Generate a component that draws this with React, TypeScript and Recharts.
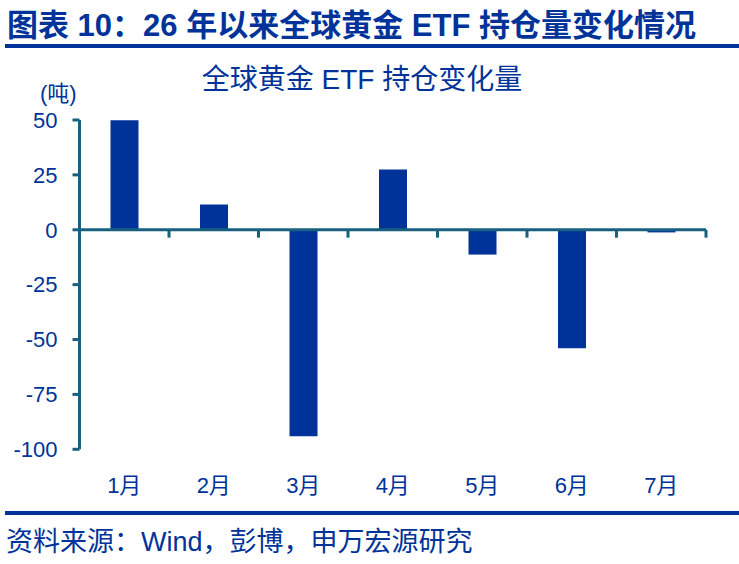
import React from "react";
import { BarChart, Bar, XAxis, YAxis, ReferenceLine } from "recharts";

const categories = ["1月", "2月", "3月", "4月", "5月", "6月", "7月"];
const etfChange = [49.9, 11.5, -94.0, 27.5, -11.3, -54.0, -1.2];
const yTicks = [-100, -75, -50, -25, 0, 25, 50];

const data = categories.map((c, i) => ({ month: c, value: etfChange[i] }));

const BLUE = "#003399";
const AXIS = "#17607f";
const LATIN = "'Liberation Sans', Arial, 'Noto Sans CJK SC', sans-serif";

export default function App() {
  return (
    <div
      style={{
        position: "absolute",
        left: 0,
        top: 0,
        width: 739,
        height: 564,
        background: "#fff",
        fontFamily: LATIN,
        overflow: "hidden",
      }}
    >
      <div
        style={{
          position: "absolute",
          left: 7,
          top: 10,
          fontSize: 31,
          fontWeight: "bold",
          color: BLUE,
          lineHeight: 1,
          whiteSpace: "nowrap",
        }}
      >
        图表 10：26 年以来全球黄金 ETF 持仓量变化情况
      </div>
      <div style={{ position: "absolute", left: 5, top: 44, width: 734, height: 4, background: BLUE }} />

      <div
        style={{
          position: "absolute",
          left: 0,
          width: 724,
          top: 66,
          textAlign: "center",
          fontSize: 28,
          color: BLUE,
          lineHeight: 1,
          whiteSpace: "nowrap",
        }}
      >
        全球黄金 ETF 持仓变化量
      </div>
      <div
        style={{
          position: "absolute",
          left: 40,
          top: 83,
          fontSize: 22,
          color: BLUE,
          lineHeight: 1,
          whiteSpace: "nowrap",
        }}
      >
        (吨)
      </div>

      <div style={{ position: "absolute", left: 0, top: 0 }}>
        <BarChart
          width={739}
          height={564}
          data={data}
          margin={{ top: 120, right: 33, left: 0, bottom: 54.7 }}
        >
          <XAxis
            dataKey="month"
            axisLine={false}
            tickLine={false}
            tickSize={0}
            tickMargin={28}
            height={60}
            interval={0}
            tick={{ fill: BLUE, fontSize: 22, fontFamily: LATIN }}
          />
          <YAxis
            width={79.5}
            domain={[-100, 50]}
            ticks={yTicks}
            interval={0}
            stroke={AXIS}
            axisLine={{ stroke: AXIS, strokeWidth: 3 }}
            tickLine={{ stroke: AXIS, strokeWidth: 3 }}
            tickSize={7}
            tickMargin={15}
            tick={{ fill: BLUE, fontSize: 22, fontFamily: LATIN }}
          />
          <Bar dataKey="value" fill={BLUE} barSize={28} isAnimationActive={false} />
          <ReferenceLine y={0} stroke={AXIS} strokeWidth={3} />
          {categories.slice(1).map((c) => (
            <ReferenceLine
              key={c}
              position="start"
              segment={[
                { x: c, y: 0 },
                { x: c, y: -3.6 },
              ]}
              stroke={AXIS}
              strokeWidth={3}
            />
          ))}
          <ReferenceLine
            position="end"
            segment={[
              { x: categories[categories.length - 1], y: 0 },
              { x: categories[categories.length - 1], y: -3.6 },
            ]}
            stroke={AXIS}
            strokeWidth={3}
          />
        </BarChart>
      </div>

      <div style={{ position: "absolute", left: 5, top: 511, width: 734, height: 4, background: BLUE }} />
      <div
        style={{
          position: "absolute",
          left: 6,
          top: 529,
          fontSize: 27,
          color: BLUE,
          lineHeight: 1,
          whiteSpace: "nowrap",
        }}
      >
        资料来源：Wind，彭博，申万宏源研究
      </div>
    </div>
  );
}
